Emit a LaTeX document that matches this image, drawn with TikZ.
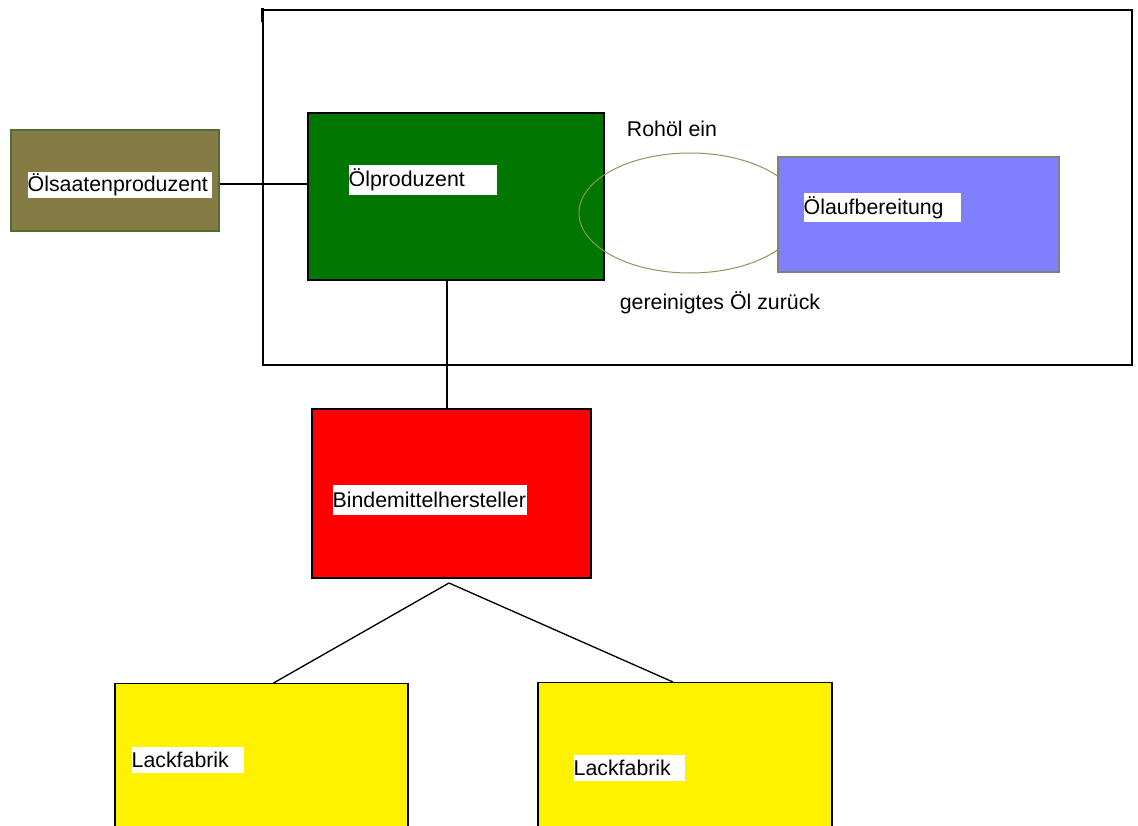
\documentclass[tikz,border=0pt]{standalone}
\usepackage{fontspec}
\setmainfont{Liberation Sans}
\usepackage{xcolor}
\usetikzlibrary{positioning}

\definecolor{saatoliv}{RGB}{133,124,69}
\definecolor{saatrand}{RGB}{80,110,50}
\definecolor{oelgruen}{RGB}{0,119,0}
\definecolor{aufbblau}{RGB}{128,128,255}
\definecolor{kreisoliv}{RGB}{150,145,90}

\begin{document}
\begin{tikzpicture}[x=0.75pt, y=-0.75pt, line width=1pt,
        font=\fontsize{16}{19}\selectfont,
        box/.style 2 args={draw, inner sep=0pt, minimum width=#1, minimum height=#2},
        schild/.style 2 args={fill=white, anchor=west, inner xsep=0pt, inner ysep=0pt,
            text width=#1, minimum height=#2, align=left}]
            \useasboundingbox (0,0) rectangle (1138,825);
            \clip (0,0) rectangle (1138,825);
            \fill [white] (0,0) rectangle (1138,825);

            % Rahmen um Oelproduktion
            \node [box={651.75pt}{266.25pt}] (rahmen) at (697.5,187.5) {};
            \draw [line width=2pt] (262.5,8) -- (262.5,22);

            \node [box={156pt}{75.75pt}, fill=saatoliv, draw=saatrand] (saat) at (115,180.5) {};
            \node [schild={138pt}{19.5pt}] (saattext) at (27,185) {Ölsaatenproduzent};

            \node [box={222pt}{125.25pt}, fill=oelgruen] (oel) at (456,196.5) {};
            \node [schild={111pt}{22.5pt}] (oeltext) at (348,180) {Ölproduzent};

            \draw [kreisoliv, line width=0.75pt] (690,213) ellipse [x radius=111, y radius=60];

            \node [box={210.75pt}{86.25pt}, fill=aufbblau, draw=gray] (aufb) at (918.5,214.5) {};
            \node [schild={117.75pt}{21.75pt}] (aufbtext) at (803,207.5) {Ölaufbereitung};

            \node (ein) at (672,129) {Rohöl ein};
            \node (zurueck) at (720,303) {gereinigtes Öl zurück};

            \node [box={209.25pt}{126.75pt}, fill=red] (binde) at (451.5,493.5) {};
            \node [schild={145.5pt}{22.5pt}] (bindetext) at (332,500) {Bindemittelhersteller};

            \node [box={219.75pt}{120pt}, fill=yellow, anchor=north] (lackA) at (261.5,683) {};
            \node [schild={84pt}{19.5pt}] (lackAtext) at (131,760) {Lackfabrik};

            \node [box={220.5pt}{120pt}, fill=yellow, anchor=north] (lackB) at (685,682) {};
            \node [schild={83.25pt}{19.5pt}] (lackBtext) at (573,768) {Lackfabrik};

            \coordinate (spitze) at (449,583);

            \path [draw] ([yshift=-2.6pt]saat.east) -- ([yshift=-2.6pt]saat.east -| oel.west);
            \path [draw] ([xshift=-3.4pt]oel.south -| binde.north) -- ([xshift=-3.4pt]binde.north);
            \path [draw] (spitze) -- ([xshift=9pt]lackA.north);
            \path [draw] (spitze) -- ([xshift=-9pt]lackB.north);
        \end{tikzpicture}
\end{document}
